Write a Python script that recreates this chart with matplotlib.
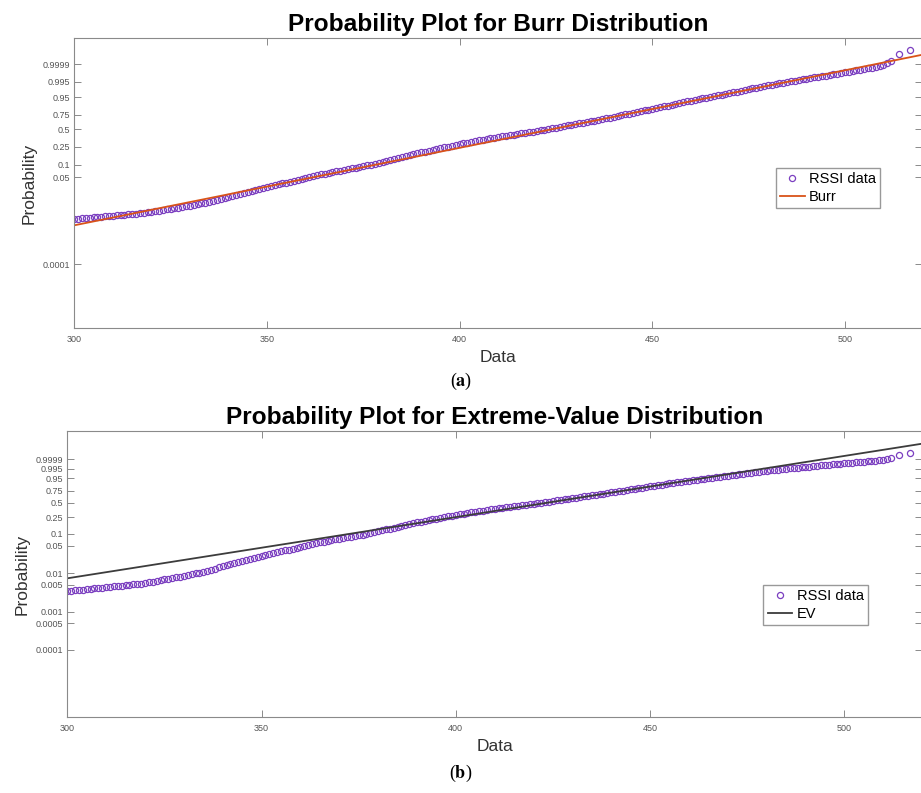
import numpy as np
import matplotlib.pyplot as plt

plt.rcParams['font.family'] = ['Liberation Sans', 'DejaVu Sans']
plt.rcParams['mathtext.fontset'] = 'stix'

# ===================== DATOS =====================
# niveles RSSI (enteros) y probabilidad empírica
rssi = np.r_[np.arange(300, 513), 514, 517]
prob = [
    0.003407, 0.003483, 0.003561, 0.003639, 0.003720, 0.003811, 0.003903, 0.004006,
    0.004111, 0.004220, 0.004330, 0.004425, 0.004525, 0.004625, 0.004728, 0.004842,
    0.004960, 0.005090, 0.005223, 0.005361, 0.005502, 0.005754, 0.006018, 0.006294,
    0.006583, 0.006851, 0.007129, 0.007419, 0.007721, 0.008035, 0.008361, 0.008805,
    0.009273, 0.009765, 0.010284, 0.010894, 0.011542, 0.012300, 0.013107, 0.013968,
    0.014884, 0.015891, 0.016966, 0.018113, 0.019338, 0.020603, 0.021949, 0.023336,
    0.024811, 0.026377, 0.028038, 0.029513, 0.031064, 0.032695, 0.034408, 0.036282,
    0.038256, 0.040415, 0.042694, 0.045096, 0.047629, 0.050107, 0.052709, 0.055444,
    0.058314, 0.061091, 0.063997, 0.066778, 0.069675, 0.072692, 0.075838, 0.078806,
    0.081887, 0.085085, 0.088396, 0.092273, 0.096316, 0.100987, 0.10590, 0.110995,
    0.11634, 0.122392, 0.12872, 0.135356, 0.14231, 0.149443, 0.15690, 0.164554,
    0.17253, 0.180849, 0.18951, 0.197531, 0.20577, 0.214321, 0.22320, 0.231980,
    0.24105, 0.249993, 0.25918, 0.268654, 0.27840, 0.287896, 0.29769, 0.307799,
    0.31809, 0.327906, 0.33784, 0.347240, 0.35676, 0.366577, 0.37645, 0.385975,
    0.39561, 0.405451, 0.41541, 0.425189, 0.43520, 0.444905, 0.45476, 0.464739,
    0.47482, 0.485704, 0.49673, 0.507781, 0.51905, 0.531083, 0.54318, 0.556110,
    0.56914, 0.582227, 0.59541, 0.607111, 0.61886, 0.630640, 0.64241, 0.654919,
    0.66735, 0.680544, 0.69363, 0.706583, 0.71955, 0.732305, 0.74493, 0.757364,
    0.76960, 0.781717, 0.79356, 0.805128, 0.81649, 0.827559, 0.83835, 0.848743,
    0.85888, 0.868663, 0.87809, 0.886873, 0.89534, 0.903188, 0.91072, 0.917859,
    0.92465, 0.930363, 0.93580, 0.940945, 0.94580, 0.950420, 0.95475, 0.958832,
    0.96264, 0.966198, 0.96951, 0.972586, 0.97543, 0.978053, 0.98046, 0.982599,
    0.98455, 0.986284, 0.98785, 0.989283, 0.99057, 0.991587, 0.99251, 0.993349,
    0.99411, 0.994775, 0.99537, 0.995895, 0.99637, 0.996795, 0.99718, 0.997524,
    0.99784, 0.998107, 0.99836, 0.998566, 0.99875, 0.998909, 0.99905, 0.999174,
    0.999285, 0.999382, 0.999468, 0.999543, 0.999609, 0.999666, 0.999716, 0.999759,
    0.999797, 0.999843, 0.999880, 0.999924, 0.999953, 0.9999935, 0.9999981,
]

# parámetros ajustados
burr_alpha, burr_c, burr_k = 495.6, 16.8, 10.0
ev_mu, ev_sigma = 433.9, 27.25

ticks_a = [0.0001, 0.05, 0.1, 0.25, 0.5, 0.75, 0.95, 0.995, 0.9999]
ticks_b = [0.0001, 0.0005, 0.001, 0.005, 0.01, 0.05, 0.1, 0.25, 0.5, 0.75,
           0.95, 0.995, 0.9999]
x_ticks = [300, 350, 400, 450, 500]


# ===================== ESCALAS =====================
def burr_q(p):
    p = np.asarray(p, dtype=float)
    return burr_alpha * (np.expm1(-np.log1p(-p) / burr_k)) ** (1.0 / burr_c)


def burr_cdf(x):
    x = np.asarray(x, dtype=float)
    return -np.expm1(-burr_k * np.log1p((x / burr_alpha) ** burr_c))


def ev_q(p):
    p = np.asarray(p, dtype=float)
    return np.log(-np.log1p(-p))


def ev_cdf(x):
    z = (np.asarray(x, dtype=float) - ev_mu) / ev_sigma
    return -np.expm1(-np.exp(z))


def fmt(v):
    return ('%.4f' % v).rstrip('0').rstrip('.')


# ===================== GRÁFICO =====================
W, H = 921, 793
fig = plt.figure(figsize=(W / 100, H / 100), dpi=100)

purple = '#7b3fc0'
spine_col = '#8a8a8a'
txt_col = '#555555'


def style(ax, yt, yq):
    ax.set_xlim(300, 520)
    ax.set_xticks(x_ticks)
    ax.set_xticklabels([str(t) for t in x_ticks])
    ax.set_yticks(yq(yt))
    ax.set_yticklabels([fmt(t) for t in yt])
    ax.tick_params(direction='in', length=5, width=0.7, color=spine_col,
                   labelcolor=txt_col, labelsize=6.5, top=True, right=True, pad=3)
    ax.tick_params(axis='x', pad=5)
    for s in ax.spines.values():
        s.set_color(spine_col)
        s.set_linewidth(0.8)
    ax.set_xlabel('Data', fontsize=12.5, color='#333333', labelpad=4)
    ax.set_ylabel('Probability', fontsize=12.5, color='#333333', labelpad=4)


# ---- (a) Burr ----
ax1 = fig.add_axes([74.3 / W, 1 - 328.3 / H, (922 - 74.3) / W, 290 / H])
ax1.plot(rssi, burr_q(prob), 'o', ms=4.4, mfc='none', mec=purple, mew=0.9,
         label='RSSI data')
xf = np.array([300, 520])
ax1.plot(xf, burr_q(burr_cdf(xf)), '-', color='#d95319', lw=1.3, label='Burr')
ax1.set_ylim(167.1, 541.3)
style(ax1, ticks_a, burr_q)
ax1.set_title('Probability Plot for Burr Distribution', fontsize=17.6,
              fontweight='bold', pad=5)
ax1.legend(loc='upper right', bbox_to_anchor=(0.951, 0.554), borderaxespad=0,
           fontsize=10.5, fancybox=False, edgecolor='#999999', framealpha=1,
           handlelength=1.7, handletextpad=0.3, borderpad=0.3, labelspacing=0.25)

# ---- (b) Extreme value ----
ax2 = fig.add_axes([67.3 / W, 1 - 717.3 / H, (922 - 67.3) / W, 286.6 / H])
ax2.plot(rssi, ev_q(prob), 'o', ms=4.4, mfc='none', mec=purple, mew=0.9,
         label='RSSI data')
ax2.plot(xf, ev_q(ev_cdf(xf)), '-', color='#3c3c3c', lw=1.3, label='EV')
ax2.set_ylim(-13.25, 3.94)
style(ax2, ticks_b, ev_q)
ax2.set_title('Probability Plot for Extreme-Value Distribution', fontsize=17.6,
              fontweight='bold', pad=5)
ax2.legend(loc='upper right', bbox_to_anchor=(0.937, 0.462), borderaxespad=0,
           fontsize=10.5, fancybox=False, edgecolor='#999999', framealpha=1,
           handlelength=1.7, handletextpad=0.3, borderpad=0.3, labelspacing=0.25)

# etiquetas de panel
fig.text(461 / W, 1 - 381 / H, r'($\mathbf{a}$)', ha='center', va='center',
         fontsize=13, family='Liberation Serif')
fig.text(461 / W, 1 - 773 / H, r'($\mathbf{b}$)', ha='center', va='center',
         fontsize=13, family='Liberation Serif')

fig.savefig('out.png', dpi=100)
